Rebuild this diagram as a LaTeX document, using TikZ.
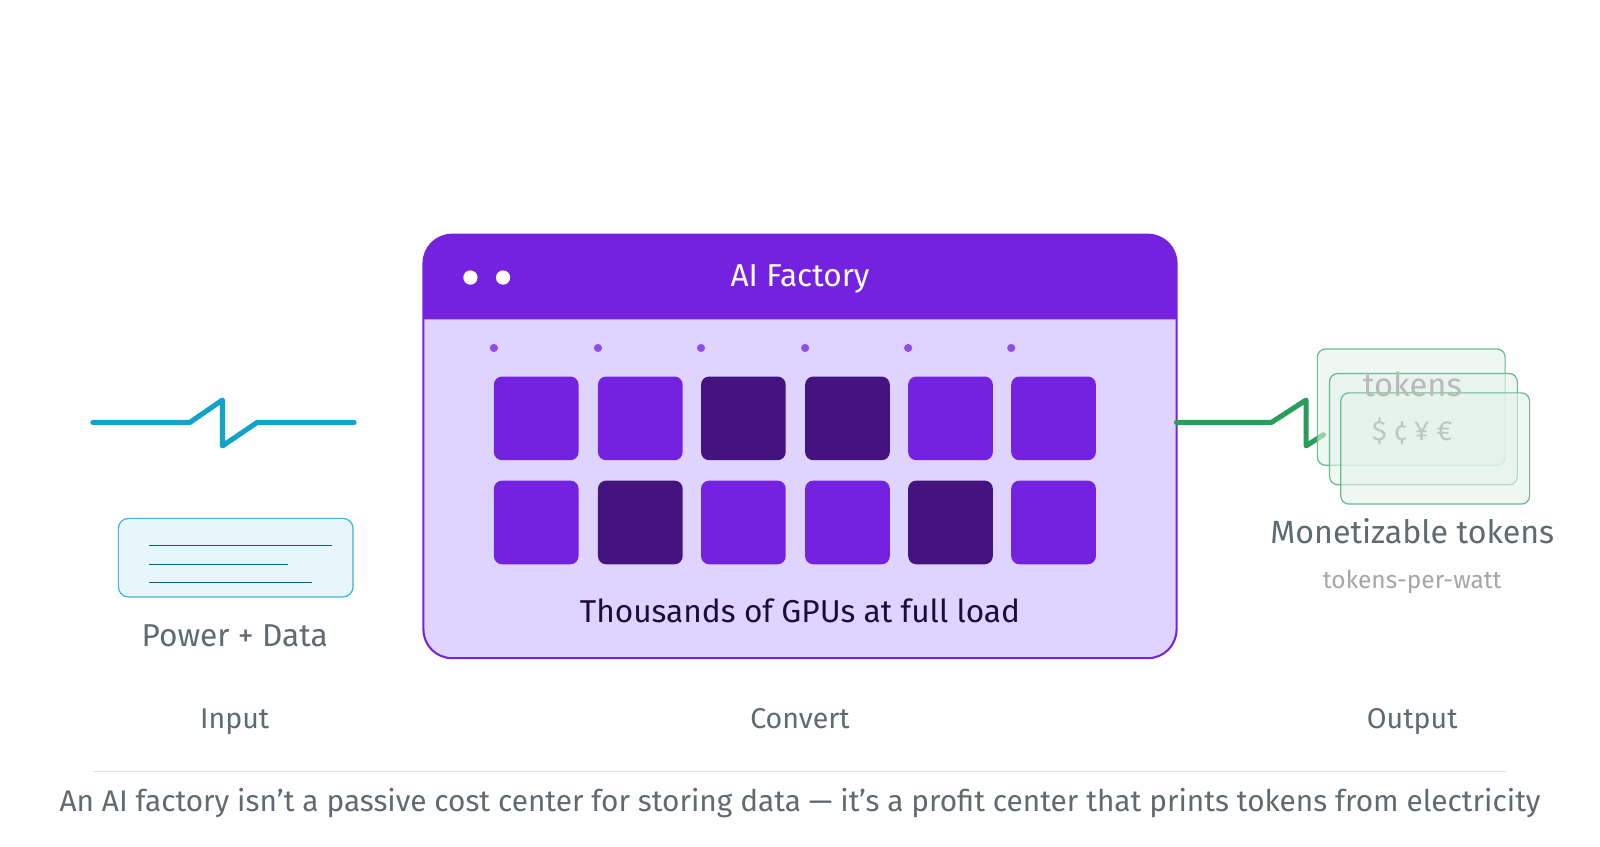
\documentclass[tikz,border=0pt]{standalone}
\usepackage{fontspec}
\setmainfont{Fira Sans}
\definecolor{pur}{HTML}{7422E0}
\definecolor{lav}{HTML}{DFD4FD}
\definecolor{dk}{HTML}{45137F}
\definecolor{ink}{HTML}{1E0B3A}
\definecolor{gr}{HTML}{5F6B70}
\definecolor{cy}{HTML}{11A3CC}
\definecolor{gn}{HTML}{2A9D5C}
\begin{document}
\begin{tikzpicture}[x=1pt,y=-1pt,
  every node/.style={text height=0.72em,text depth=0.22em,inner sep=0pt,yshift=-6pt},
  gpu/.style={fill=pur,rounded corners=8pt},
  gpud/.style={fill=dk,rounded corners=8pt},
  lbl/.style={font=\fontsize{28}{30}\selectfont,text=gr},
  card/.style={draw=gn!70,fill=gn!12,fill opacity=0.6,rounded corners=8pt,line width=1.2pt}]
\useasboundingbox (0,0) rectangle (1568,830);
\fill[white] (0,0) rectangle (1568,830);
% factory
\draw[pur,line width=2pt,fill=lav,rounded corners=28pt] (415,230) rectangle (1153,645);
\fill[pur] (415,313) -- (415,258) arc[start angle=180,end angle=270,radius=28] -- (1125,230) arc[start angle=270,end angle=360,radius=28] -- (1153,313) -- cycle;
\fill[white] (461,272) circle (7) (493,272) circle (7);
\node[text=white,font=\fontsize{31}{33}\selectfont] (title) at (784,272) {AI Factory};
\foreach \x in {484,586,687,789,890,991} \fill[pur!80] (\x,341) circle (4);
\foreach \x/\s in {484/gpu,586/gpu,687/gpud,789/gpud,890/gpu,991/gpu} \path[\s] (\x,369) rectangle ++(83,82);
\foreach \x/\s in {484/gpu,586/gpud,687/gpu,789/gpu,890/gpud,991/gpu} \path[\s] (\x,471) rectangle ++(83,82);
\node[text=ink,font=\fontsize{31}{33}\selectfont] (gpus) at (784,602) {Thousands of GPUs at full load};
% input
\draw[cy,line width=5pt,line cap=round,line join=round] (91,414) -- (186,414) -- (218,392) -- (218,437) -- (252,414) -- (347,414);
\draw[draw=cy!80,fill=cy!10,rounded corners=10pt,line width=1.2pt] (116,508) rectangle (346,585);
\draw[cy!60!black,line width=1pt] (146,535) -- (325,535) (146,553) -- (282,553) (146,571) -- (306,571);
\node[lbl,font=\fontsize{31}{33}\selectfont] (pd) at (230,625) {Power + Data};
% output
\draw[gn,line width=5pt,line cap=round,line join=round] (1153,414) -- (1246,414) -- (1280,392) -- (1280,437) -- (1297,426);
\path[card] (1291,342) rectangle (1475,456);
\path[card] (1303,366) rectangle (1487,475);
\path[card] (1314,385) rectangle (1499,494);
\node[text=gray!55,font=\fontsize{32}{34}\selectfont] (tk) at (1384,380) {tokens};
\node[text=gn!35!gray!45,font=\fontsize{27}{29}\selectfont] (cur) at (1384,423) {\$ ¢ ¥ €};
\node[lbl,font=\fontsize{31.5}{33}\selectfont] (mt) at (1384,524) {Monetizable tokens};
\node[text=gray!70,font=\fontsize{24}{26}\selectfont] (tpw) at (1384,568) {tokens-per-watt};
% stages
\node[lbl] (in) at (230,705) {Input};
\node[lbl] (cv) at (784,705) {Convert};
\node[lbl] (out) at (1384,705) {Output};
\draw[gray!25,line width=1pt] (92,756) -- (1476,756);
\node[lbl,font=\fontsize{29.2}{31}\selectfont] (cap) at (784,787) {An AI factory isn't a passive cost center for storing data — it's a profit center that prints tokens from electricity};
\end{tikzpicture}
\end{document}
